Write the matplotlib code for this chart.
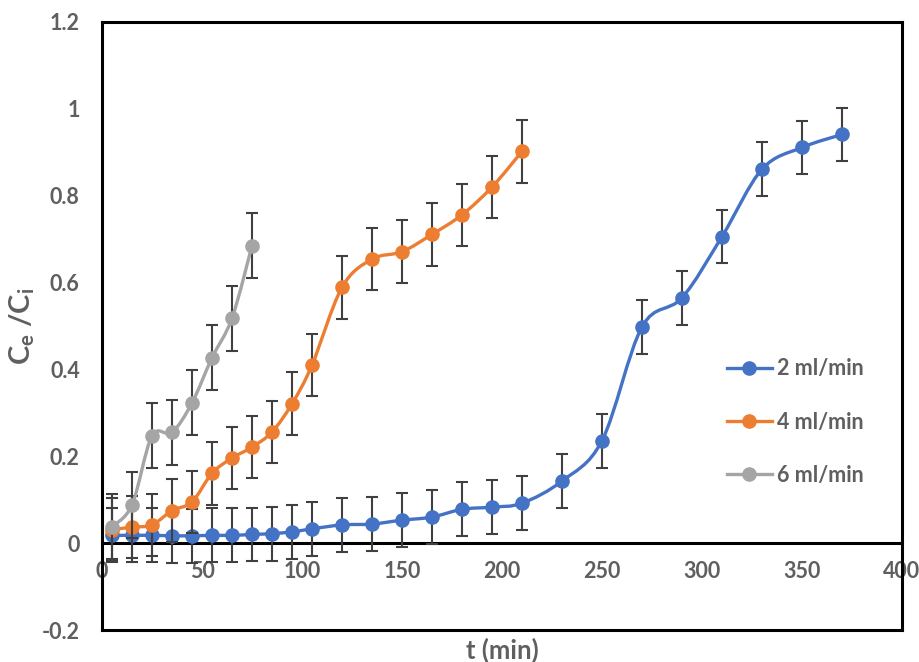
import numpy as np
import matplotlib
matplotlib.use("Agg")
import matplotlib.pyplot as plt
from matplotlib.path import Path
from matplotlib.patches import PathPatch
from matplotlib.lines import Line2D
from matplotlib.ticker import FuncFormatter, MultipleLocator

# ==== data ====
t_2 = [5, 15, 25, 35, 45, 55, 65, 75, 85, 95, 105, 120, 135, 150, 165, 180,
       195, 210, 230, 250, 270, 290, 310, 330, 350, 370]
c_2 = [0.018, 0.018, 0.018, 0.017, 0.017, 0.018, 0.018, 0.020, 0.022, 0.026,
       0.033, 0.042, 0.044, 0.053, 0.060, 0.078, 0.083, 0.092, 0.143, 0.236,
       0.498, 0.565, 0.706, 0.861, 0.911, 0.941]
e_2 = [0.062] * len(t_2)

t_4 = [5, 15, 25, 35, 45, 55, 65, 75, 85, 95, 105, 120, 135, 150, 165, 180,
       195, 210]
c_4 = [0.031, 0.037, 0.042, 0.075, 0.095, 0.161, 0.196, 0.221, 0.256, 0.321,
       0.410, 0.589, 0.654, 0.671, 0.711, 0.756, 0.820, 0.902]
e_4 = [0.072] * len(t_4)

t_6 = [5, 15, 25, 35, 45, 55, 65, 75]
c_6 = [0.038, 0.088, 0.247, 0.255, 0.323, 0.427, 0.518, 0.685]
e_6 = [0.075] * len(t_6)

labels = ["2 ml/min", "4 ml/min", "6 ml/min"]
colors = ["#4472C4", "#ED7D31", "#A5A5A5"]

TEXT_C = "#5f5f5f"
plt.rcParams["font.family"] = ["Lato", "DejaVu Sans"]
plt.rcParams["font.weight"] = "bold"
plt.rcParams["mathtext.fontset"] = "custom"
plt.rcParams["mathtext.rm"] = "Lato:bold"
plt.rcParams["mathtext.default"] = "rm"


def smooth_path(x, y):
    """Excel-like smoothed line: Bezier segments through the points."""
    pts = np.column_stack([x, y]).astype(float)
    n = len(pts)
    verts = [pts[0]]
    codes = [Path.MOVETO]
    for i in range(n - 1):
        p0 = pts[i - 1] if i > 0 else pts[i]
        p1, p2 = pts[i], pts[i + 1]
        p3 = pts[i + 2] if i + 2 < n else pts[i + 1]
        verts += [p1 + (p2 - p0) / 6.0, p2 - (p3 - p1) / 6.0, p2]
        codes += [Path.CURVE4] * 3
    return Path(verts, codes)


fig = plt.figure(figsize=(9.19, 6.62), dpi=100)
ax = fig.add_axes([0.111, 0.0483, 0.8705, 0.9185])

series = [(t_2, c_2, e_2), (t_4, c_4, e_4), (t_6, c_6, e_6)]
handles = []
for k, ((t, c, e), col, lab) in enumerate(zip(series, colors, labels)):
    z = 3 + k * 3
    ax.errorbar(t, c, yerr=e, fmt="none", ecolor="#404040", elinewidth=1.5,
                capsize=4, capthick=1.5, zorder=z)
    ax.add_patch(PathPatch(smooth_path(t, c), facecolor="none", edgecolor=col,
                           lw=2.4, capstyle="round", joinstyle="round", zorder=z + 1))
    ax.plot(t, c, "o", color=col, markersize=9.5, zorder=z + 2)
    handles.append(Line2D([], [], color=col, lw=2.4, marker="o", markersize=9.5, label=lab))

ax.set_xlim(0, 400)
ax.set_ylim(-0.2, 1.2)
ax.xaxis.set_major_locator(MultipleLocator(50))
ax.yaxis.set_major_locator(MultipleLocator(0.2))
ax.yaxis.set_major_formatter(FuncFormatter(lambda v, p: f"{round(v, 1):g}"))

for s in ax.spines.values():
    s.set_linewidth(2.2)
    s.set_color("black")
ax.spines["bottom"].set_position(("data", 0))
ax.add_line(Line2D([0, 1], [0, 0], transform=ax.transAxes, color="black",
                   lw=2.2, clip_on=False, zorder=20))

ax.tick_params(axis="both", length=0, labelsize=15.5, labelcolor=TEXT_C)
ax.tick_params(axis="x", pad=13)
ax.tick_params(axis="y", pad=16)

ax.set_xlabel("t (min)", fontsize=18.5, color=TEXT_C, fontweight="bold")
ax.xaxis.set_label_coords(0.5, -0.012)
ax.set_ylabel("C$_{e}$ /C$_{i}$", fontsize=21, color=TEXT_C, fontweight="bold")
ax.yaxis.set_label_coords(-0.081, 0.5)

leg = ax.legend(handles=handles, loc="center left", bbox_to_anchor=(0.781, 0.342),
                frameon=False, borderpad=0, borderaxespad=0, handlelength=2.1,
                handletextpad=0.25, labelspacing=1.5, fontsize=15.5)
for txt in leg.get_texts():
    txt.set_color(TEXT_C)
    txt.set_fontweight("bold")

fig.savefig("out.png", dpi=100)
